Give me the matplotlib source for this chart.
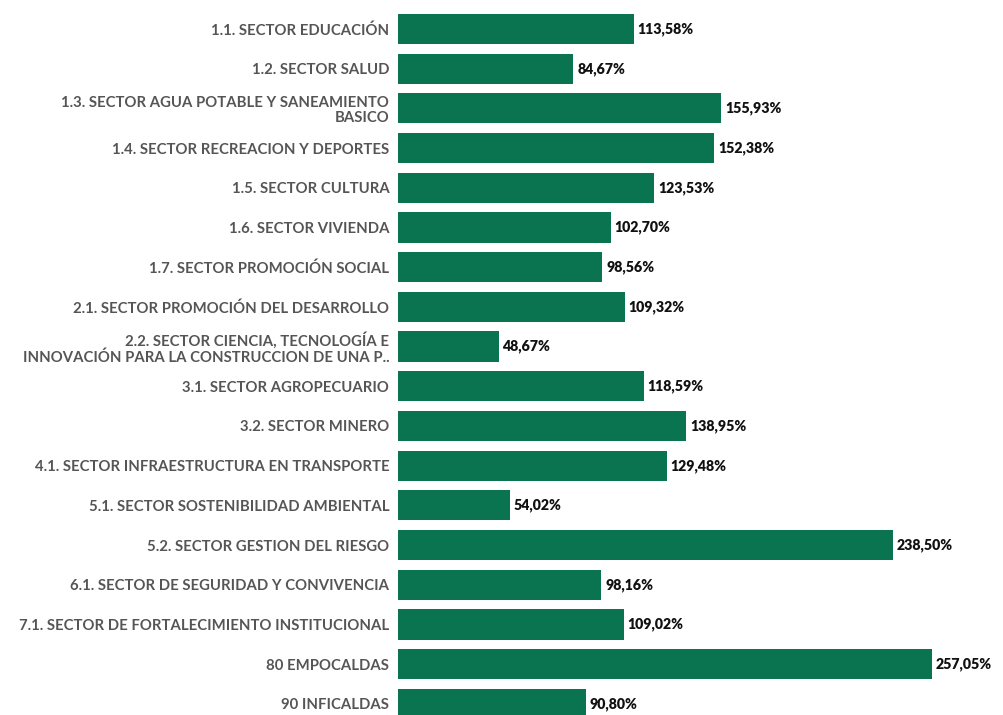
import matplotlib.pyplot as plt

plt.rcParams['font.family'] = ['Lato', 'DejaVu Sans']

# sectors and execution %
sectores = [
    "1.1. SECTOR EDUCACIÓN",
    "1.2. SECTOR SALUD",
    "1.3. SECTOR AGUA POTABLE Y SANEAMIENTO\nBASICO",
    "1.4. SECTOR RECREACION Y DEPORTES",
    "1.5. SECTOR CULTURA",
    "1.6. SECTOR VIVIENDA",
    "1.7. SECTOR PROMOCIÓN SOCIAL",
    "2.1. SECTOR PROMOCIÓN DEL DESARROLLO",
    "2.2. SECTOR CIENCIA, TECNOLOGÍA E\nINNOVACIÓN PARA LA CONSTRUCCION DE UNA P..",
    "3.1. SECTOR AGROPECUARIO",
    "3.2. SECTOR MINERO",
    "4.1. SECTOR INFRAESTRUCTURA EN TRANSPORTE",
    "5.1. SECTOR SOSTENIBILIDAD AMBIENTAL",
    "5.2. SECTOR GESTION DEL RIESGO",
    "6.1. SECTOR DE SEGURIDAD Y CONVIVENCIA",
    "7.1. SECTOR DE FORTALECIMIENTO INSTITUCIONAL",
    "80 EMPOCALDAS",
    "90 INFICALDAS",
]
ejecucion = [113.58, 84.67, 155.93, 152.38, 123.53, 102.70, 98.56, 109.32, 48.67,
             118.59, 138.95, 129.48, 54.02, 238.50, 98.16, 109.02, 257.05, 90.80]

fig = plt.figure(figsize=(10.04, 7.15), dpi=100)
ax = fig.add_axes([0.396, 0, 0.6, 1])

pos = range(len(sectores))
ax.barh(pos, ejecucion, height=0.76, color='#0a7350')

for i, v in enumerate(ejecucion):
    txt = f"{v:.2f}%".replace('.', ',')
    ax.text(v + 1.8, i, txt, va='center', ha='left', fontsize=10.2,
            fontweight='heavy', color='#111111')

ax.set_yticks(list(pos))
ax.set_yticklabels(sectores, fontsize=10.7, fontweight='bold', color='#555555',
                   linespacing=1.12)
ax.tick_params(axis='y', length=0, pad=6)
ax.set_xticks([])
ax.set_xlim(0, 290)
ax.set_ylim(17.28, -0.73)
for s in ax.spines.values():
    s.set_visible(False)

fig.savefig('out.png', dpi=100)
